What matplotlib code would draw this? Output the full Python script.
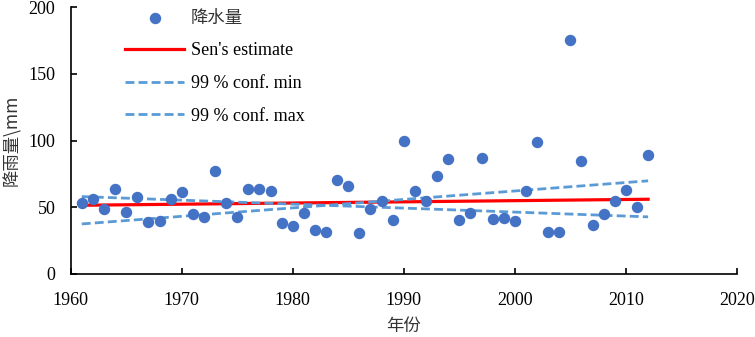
import matplotlib
matplotlib.use("Agg")
import matplotlib.pyplot as plt
import numpy as np

years = list(range(1961, 2013))
rain = [53.5, 56.5, 48.5, 63.7, 46.3, 57.5, 38.6, 39.8, 56.5, 61.2,
        45.0, 42.8, 77.4, 53.5, 42.8, 64.0, 63.7, 62.2, 38.0, 35.8,
        46.0, 33.3, 31.1, 70.7, 66.2, 30.8, 48.5, 55.0, 40.3, 99.5,
        62.2, 54.7, 73.1, 85.8, 40.8, 45.5, 87.0, 41.0, 41.8, 40.0,
        62.4, 98.7, 31.8, 31.8, 175.4, 84.3, 37.0, 45.0, 54.7, 62.7,
        50.0, 89.5]

trend_years = [1961, 2012]
sen_est = [51.5, 56.0]
conf_min = [58.0, 42.8]
conf_max = [37.5, 69.8]

serif = ['Liberation Serif', 'DejaVu Serif']
cjk = ['Noto Sans CJK SC', 'DejaVu Sans']
fs = 13

fig = plt.figure(figsize=(7.55, 3.37), dpi=100)
ax = fig.add_axes([0.0936, 0.187, 0.8825, 0.792])

ax.scatter(years, rain, s=52, color='#4472C4', zorder=3, label='降水量')
ax.plot(trend_years, sen_est, color='#FF0000', lw=2.3, label="Sen's estimate", zorder=2)
ax.plot(trend_years, conf_min, color='#5B9BD5', lw=2, dashes=(3.2, 1.5), label='99 % conf. min', zorder=2)
ax.plot(trend_years, conf_max, color='#5B9BD5', lw=2, dashes=(3.2, 1.5), label='99 % conf. max', zorder=2)

ax.set_xlim(1960, 2020)
ax.set_ylim(0, 200)
ax.set_xticks(range(1960, 2021, 10))
ax.set_yticks(range(0, 201, 50))
for s in ['top', 'right']:
    ax.spines[s].set_visible(False)
for s in ['left', 'bottom']:
    ax.spines[s].set_linewidth(1.2)
ax.tick_params(direction='in', length=4, width=1.2, labelsize=fs)
ax.tick_params(axis='x', pad=13)
ax.tick_params(axis='y', pad=11)
for lab in ax.get_xticklabels() + ax.get_yticklabels():
    lab.set_fontfamily(serif)

ax.set_xlabel('年份', fontfamily=cjk, fontsize=12.5, labelpad=6, color='#333333')
ax.set_ylabel('降雨量\\mm', fontfamily=cjk, fontsize=12.5, labelpad=5, color='#333333')

leg = ax.legend(loc='upper left', bbox_to_anchor=(0.057, 1.055), frameon=False,
                handlelength=3.3, labelspacing=0.87, handletextpad=0.35,
                prop={'family': serif, 'size': fs})
for t in leg.get_texts():
    if t.get_text() == '降水量':
        t.set_fontfamily(cjk)
        t.set_fontsize(12.5)
        t.set_color('#333333')

fig.savefig('out.png', dpi=100)
